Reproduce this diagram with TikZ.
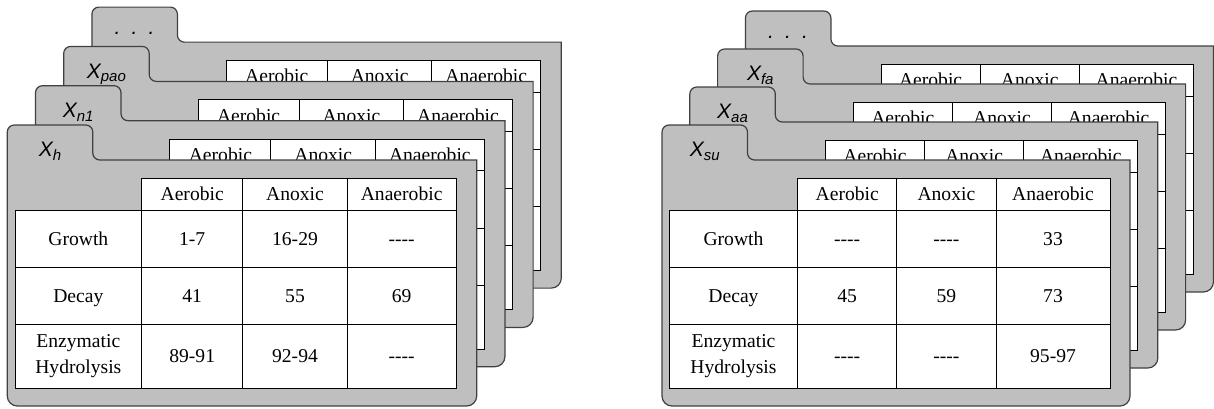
\documentclass[tikz,border=0pt]{standalone}
\usepackage{fontspec}
\setmainfont{Liberation Serif}
\setsansfont{Liberation Sans}
\usetikzlibrary{calc}

\tikzset{
  card/.style={draw=black!75, fill=black!25, line width=0.6pt},
  cell/.style={draw=black, fill=white, line width=0.5pt},
  rule/.style={draw=black, line width=0.5pt},
  txt/.style={font=\fontsize{9.8}{12.8}\selectfont, inner sep=0pt},
  fixed/.style={text height=0.66em, text depth=0pt},
  tablabel/.style={font=\fontsize{10.5}{12}\selectfont\sffamily\itshape, anchor=base, inner sep=0pt},
}
\newcommand{\sub}[1]{\raisebox{-0.35ex}{\fontsize{7.5}{8}\selectfont #1}}
\newcommand{\tabdots}{\raisebox{2.3pt}{.\hspace{5.6pt}.\hspace{5.6pt}.}}

% one card with its tab and table: #1 name, #2 x, #3 y (top left of tab), #4 label
\newcommand{\card}[4]{%
  \draw[card] (#2,#3+281) [rounded corners=3.5pt] -- (#2,#3) -- (#2+85.5,#3)
    -- (#2+85.5,#3+35) [sharp corners] -- (#2+\cW,#3+35) [rounded corners=5pt]
    -- (#2+\cW,#3+281) -- cycle;
  \node[tablabel] (#1) at (#2+42.7,#3+31.7) {#4};
  \draw[cell] (#2+\cB,#3+53.3) rectangle (#2+\cE,#3+85);
  \draw[cell] (#2+\cA,#3+85) rectangle (#2+\cE,#3+263.3);
  \foreach \cx in {\cC,\cD} \draw[rule] (#2+\cx,#3+53.3) -- (#2+\cx,#3+263.3);
  \draw[rule] (#2+\cB,#3+85) -- (#2+\cB,#3+263.3);
  \foreach \ry in {142.3,199.3} \draw[rule] (#2+\cA,#3+\ry) -- (#2+\cE,#3+\ry);
  \node[txt,fixed] (#1-aer) at ({#2+(\cB+\cC)/2},#3+69.2) {Aerobic};
  \node[txt,fixed] (#1-ano) at ({#2+(\cC+\cD)/2},#3+69.2) {Anoxic};
  \node[txt,fixed] (#1-ana) at ({#2+(\cD+\cE)/2},#3+69.2) {Anaerobic};
}

% row labels and values of a front card: #1 name, #2 x, #3 y, #4 rows
\newcommand{\cardvalues}[4]{%
  \node[txt,fixed] (#1-gr) at ({#2+(\cA+\cB)/2},#3+113.6) {Growth};
  \node[txt,fixed] (#1-de) at ({#2+(\cA+\cB)/2},#3+170.8) {Decay};
  \node[txt,align=center] (#1-en) at ({#2+(\cA+\cB)/2},#3+231.3) {Enzymatic\\Hydrolysis};
  \foreach \yy/\va/\vb/\vc [count=\i] in {#4} {
    \node[txt,fixed] (#1-\i-a) at ({#2+(\cB+\cC)/2},#3+\yy) {\va};
    \node[txt,fixed] (#1-\i-b) at ({#2+(\cC+\cD)/2},#3+\yy) {\vb};
    \node[txt,fixed] (#1-\i-c) at ({#2+(\cD+\cE)/2},#3+\yy) {\vc};
  }
}

\begin{document}
\begin{tikzpicture}[x=0.5pt, y=-0.5pt]
  \useasboundingbox (0,0) rectangle (1214,408);

  % left stack
  \def\cA{7.7}\def\cB{134.4}\def\cC{235.4}\def\cD{340}\def\cE{448.7}\def\cW{469.4}
  \card{lD}{91.9}{7.1}{\tabdots}
  \card{lP}{63.7}{46.4}{X\sub{pao}}
  \card{lN}{35.5}{85.7}{X\sub{n1}}
  \card{lH}{7.3}{125}{X\sub{h}}
  \cardvalues{lH}{7.3}{125}{113.6/1-7/16-29/{-}{-}{-}{-}, 170.8/41/55/69, 231.3/89-91/92-94/{-}{-}{-}{-}}

  % right stack
  \def\cA{7.3}\def\cB{135.7}\def\cC{234.7}\def\cD{334}\def\cE{448}\def\cW{468}
  \card{rD}{745.4}{11}{\tabdots}
  \card{rF}{717.6}{49}{X\sub{fa}}
  \card{rA}{689.8}{87}{X\sub{aa}}
  \card{rS}{662}{125}{X\sub{su}}
  \cardvalues{rS}{662}{125}{113.6/{-}{-}{-}{-}/{-}{-}{-}{-}/33, 170.8/45/59/73, 231.3/{-}{-}{-}{-}/{-}{-}{-}{-}/95-97}
\end{tikzpicture}
\end{document}
